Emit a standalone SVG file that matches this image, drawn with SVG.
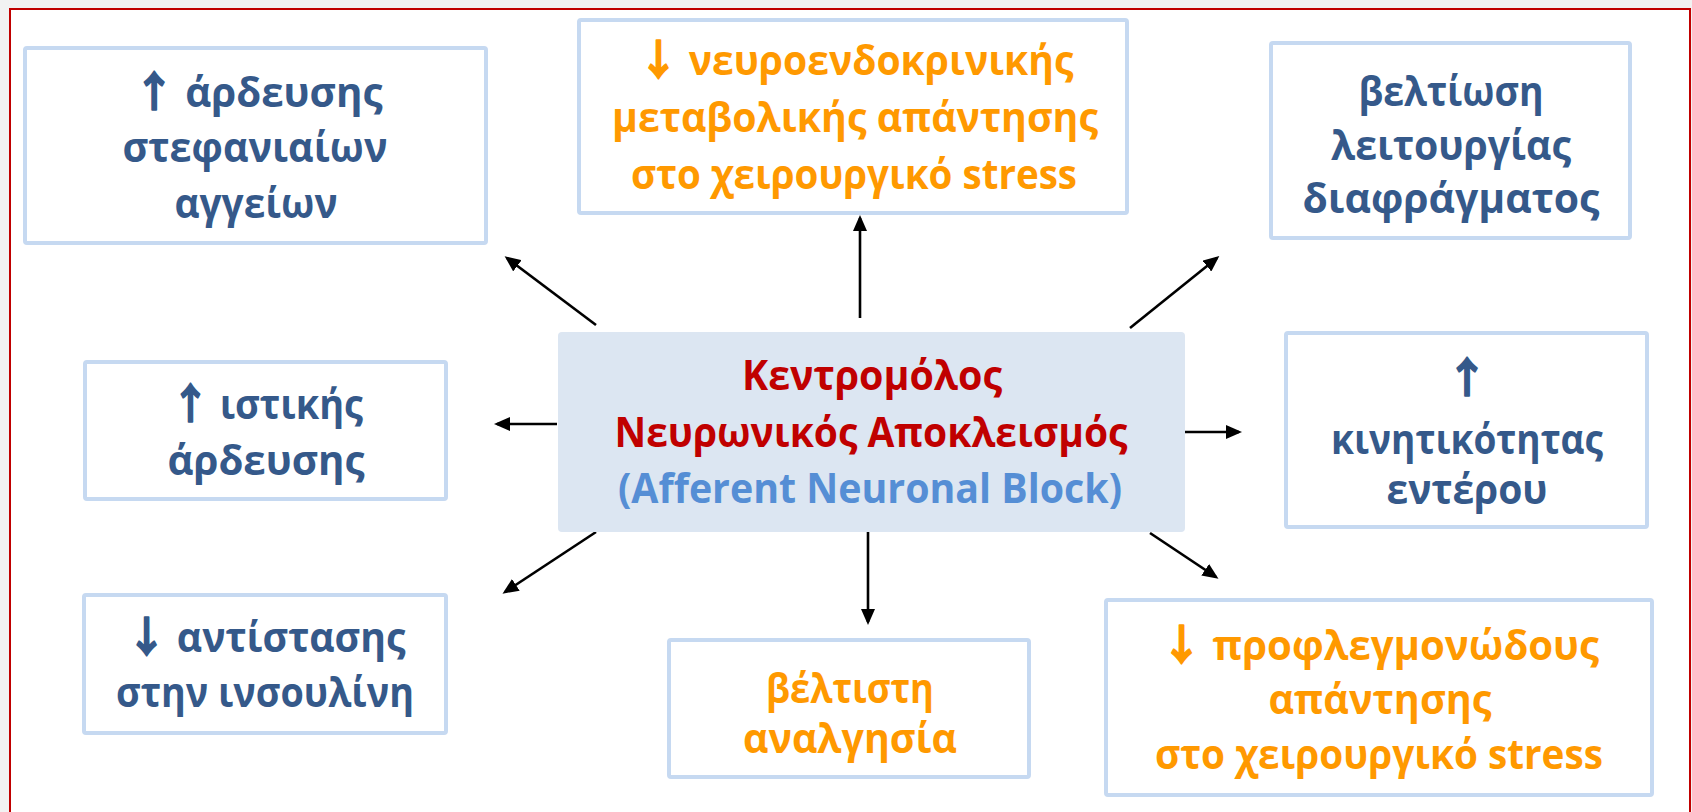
<svg xmlns="http://www.w3.org/2000/svg" width="1692" height="812" viewBox="0 0 1692 812">
<defs>
<marker id="ah" markerUnits="userSpaceOnUse" markerWidth="16" markerHeight="14" refX="13" refY="7" orient="auto"><path d="M0,0 L16,7 L0,14 Z" fill="#000"/></marker>
<style>
.box{fill:#fff;stroke:#C6D9F1;stroke-width:4}
.cbox{fill:#DCE6F2}
.t{font-family:"Open Sans","Noto Sans","DejaVu Sans",sans-serif;font-weight:700;font-size:41px;text-anchor:middle}
.ar{font-family:"Noto Sans CJK SC","DejaVu Sans",sans-serif;font-weight:700;font-size:42px;stroke-width:1.6px;stroke-linejoin:round}
.b{fill:#35598A}
.b .ar,.ar.b{stroke:#35598A}
.o{fill:#FF9900}
.o .ar{stroke:#FF9900}
.r{fill:#C00000}
.lb{fill:#558ED5}
#connectors line{stroke:#000;stroke-width:2.6;marker-end:url(#ah)}
</style>
</defs>
<rect x="0" y="0" width="1692" height="812" fill="#F2F2F2"/>
<rect x="10" y="9" width="1680" height="810" fill="#FFFFFF" stroke="#C00000" stroke-width="2"/>

<g id="connectors">
<line x1="596" y1="325" x2="507" y2="258"/>
<line x1="860" y1="318" x2="860" y2="218"/>
<line x1="1130" y1="328" x2="1217" y2="258"/>
<line x1="557" y1="424" x2="497" y2="424"/>
<line x1="1185" y1="432" x2="1239" y2="432"/>
<line x1="596" y1="532" x2="505" y2="592"/>
<line x1="868" y1="532" x2="868" y2="622"/>
<line x1="1150" y1="533" x2="1216" y2="577"/>
</g>

<g id="center">
<rect class="cbox" x="558" y="332" width="627" height="200" rx="4"/>
<text class="t r" x="872" y="390" textLength="260" lengthAdjust="spacingAndGlyphs">Κεντρομόλος</text>
<text class="t r" x="871" y="447" textLength="513" lengthAdjust="spacingAndGlyphs">Νευρωνικός Αποκλεισμός</text>
<text class="t lb" x="870" y="503" textLength="504" lengthAdjust="spacingAndGlyphs">(Afferent Neuronal Block)</text>
</g>

<g id="n1">
<rect class="box" x="25" y="48" width="461" height="195" rx="2"/>
<text class="t b" x="258" y="107" textLength="249" lengthAdjust="spacingAndGlyphs"><tspan class="ar">↑</tspan> άρδευσης</text>
<text class="t b" x="255" y="162" textLength="265" lengthAdjust="spacingAndGlyphs">στεφανιαίων</text>
<text class="t b" x="256" y="218" textLength="163" lengthAdjust="spacingAndGlyphs">αγγείων</text>
</g>

<g id="n2">
<rect class="box" x="579" y="20" width="548" height="193" rx="2"/>
<text class="t o" x="856" y="75" textLength="435" lengthAdjust="spacingAndGlyphs"><tspan class="ar">↓</tspan> νευροενδοκρινικής</text>
<text class="t o" x="855" y="132" textLength="486" lengthAdjust="spacingAndGlyphs">μεταβολικής απάντησης</text>
<text class="t o" x="854" y="189" textLength="446" lengthAdjust="spacingAndGlyphs">στο χειρουργικό stress</text>
</g>

<g id="n3">
<rect class="box" x="1271" y="43" width="359" height="195" rx="2"/>
<text class="t b" x="1451" y="106" textLength="185" lengthAdjust="spacingAndGlyphs">βελτίωση</text>
<text class="t b" x="1451" y="160" textLength="240" lengthAdjust="spacingAndGlyphs">λειτουργίας</text>
<text class="t b" x="1451" y="213" textLength="297" lengthAdjust="spacingAndGlyphs">διαφράγματος</text>
</g>

<g id="n4">
<rect class="box" x="85" y="362" width="361" height="137" rx="2"/>
<text class="t b" x="267" y="419" textLength="192" lengthAdjust="spacingAndGlyphs"><tspan class="ar">↑</tspan> ιστικής</text>
<text class="t b" x="266" y="475" textLength="197" lengthAdjust="spacingAndGlyphs">άρδευσης</text>
</g>

<g id="n5">
<rect class="box" x="1286" y="333" width="361" height="194" rx="2"/>
<text class="t b ar" x="1467" y="393">↑</text>
<text class="t b" x="1467" y="454" textLength="272" lengthAdjust="spacingAndGlyphs">κινητικότητας</text>
<text class="t b" x="1467" y="504" textLength="161" lengthAdjust="spacingAndGlyphs">εντέρου</text>
</g>

<g id="n6">
<rect class="box" x="84" y="595" width="362" height="138" rx="2"/>
<text class="t b" x="266" y="652" textLength="279" lengthAdjust="spacingAndGlyphs"><tspan class="ar">↓</tspan> αντίστασης</text>
<text class="t b" x="265" y="707" textLength="298" lengthAdjust="spacingAndGlyphs">στην ινσουλίνη</text>
</g>

<g id="n7">
<rect class="box" x="669" y="640" width="360" height="137" rx="2"/>
<text class="t o" x="850" y="703" textLength="168" lengthAdjust="spacingAndGlyphs">βέλτιστη</text>
<text class="t o" x="850" y="753" textLength="214" lengthAdjust="spacingAndGlyphs">αναλγησία</text>
</g>

<g id="n8">
<rect class="box" x="1106" y="600" width="546" height="195" rx="2"/>
<text class="t o" x="1380" y="660" textLength="438" lengthAdjust="spacingAndGlyphs"><tspan class="ar">↓</tspan> προφλεγμονώδους</text>
<text class="t o" x="1380" y="714" textLength="223" lengthAdjust="spacingAndGlyphs">απάντησης</text>
<text class="t o" x="1379" y="769" textLength="448" lengthAdjust="spacingAndGlyphs">στο χειρουργικό stress</text>
</g>
</svg>
